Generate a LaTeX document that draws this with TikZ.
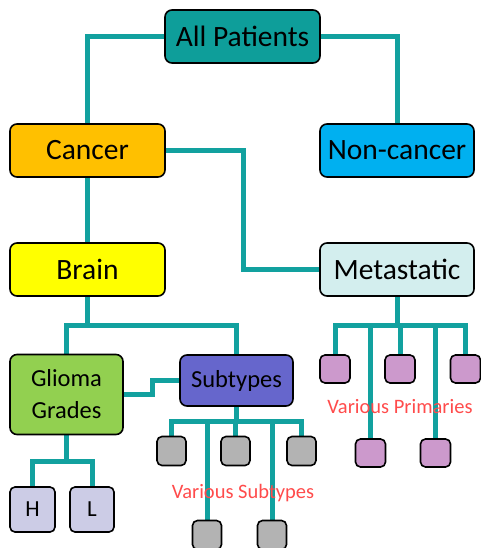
\documentclass[tikz,border=0pt]{standalone}
\usepackage{fontspec}
\setmainfont{Carlito}
\usetikzlibrary{backgrounds,calc}
\definecolor{teal1}{HTML}{0E9E9A}
\definecolor{lineteal}{HTML}{12A19F}
\definecolor{orangeb}{HTML}{FFC000}
\definecolor{blueb}{HTML}{00B0F0}
\definecolor{yellowb}{HTML}{FFFF00}
\definecolor{cyanb}{HTML}{D3EEEE}
\definecolor{greenb}{HTML}{92D050}
\definecolor{purpleb}{HTML}{6666CC}
\definecolor{greyb}{HTML}{B3B3B3}
\definecolor{pinkb}{HTML}{CC99CC}
\definecolor{lavb}{HTML}{CCCCE6}
\definecolor{redtxt}{HTML}{FF4B4B}
\tikzset{
  box/.style={draw=black, line width=1.6pt, rounded corners=7pt, inner sep=0pt, align=center},
  bigbox/.style={box, minimum width=155pt, minimum height=53pt, font=\fontsize{29.5}{32}\selectfont},
  midbox/.style={box, minimum width=113pt, font=\fontsize{24.5}{32}\selectfont},
  smallbox/.style={box, rounded corners=5pt, minimum width=29pt, minimum height=29pt},
  hlbox/.style={smallbox, fill=lavb, minimum height=45pt, font=\fontsize{23}{25}\selectfont},
  pinkbox/.style={smallbox, fill=pinkb, minimum width=30pt, minimum height=28pt},
  conn/.style={draw=lineteal, line width=5pt, line join=miter},
  note/.style={text=redtxt, font=\fontsize{20.5}{24}\selectfont}
}
\begin{document}
\begin{tikzpicture}[x=1pt,y=-1pt]
\useasboundingbox (0,0) rectangle (481,548);
% main boxes
\node[bigbox, fill=teal1] (ap) at (242.5,36.5) {All Patients};
\node[bigbox, fill=orangeb] (cancer) at (87.5,150.5) {Cancer};
\node[bigbox, fill=blueb, minimum width=154pt] (noncancer) at (397,150.5) {Non-cancer};
\node[bigbox, fill=yellowb] (brain) at (87.5,269.5) {Brain};
\node[bigbox, fill=cyanb, minimum width=154pt] (meta) at (397,269.5) {Metastatic};
\node[midbox, fill=greenb, minimum height=80pt] (glioma) at (66.5,394.5) {Glioma\\Grades};
\node[midbox, fill=purpleb, minimum height=51pt] (subtypes) at (236.5,380.5) {Subtypes};
% H / L
\node[hlbox, minimum width=45pt] (h) at (32.5,509.5) {H};
\node[hlbox, minimum width=44pt] (l) at (92,509.5) {L};
% grey subtype boxes
\node[smallbox, fill=greyb] (g1) at (171.5,451) {};
\node[smallbox, fill=greyb] (g2) at (235.5,451) {};
\node[smallbox, fill=greyb] (g3) at (301.5,451) {};
\node[smallbox, fill=greyb] (g4) at (207,535) {};
\node[smallbox, fill=greyb] (g5) at (272,535) {};
% pink primary boxes
\node[pinkbox] (p1) at (335,369) {};
\node[pinkbox] (p2) at (400,369) {};
\node[pinkbox] (p3) at (465.5,369) {};
\node[pinkbox] (p4) at (370.5,453) {};
\node[pinkbox] (p5) at (435.5,453) {};
% labels
\node[note] (vs) at (243,493) {Various Subtypes};
\node[note] (vp) at (400,407) {Various Primaries};
% junction coordinates
\coordinate (cm) at (243,150.5);
\coordinate (jb) at (87.5,325);
\coordinate (gs) at (152,394.5);
\coordinate (js) at (236.5,421);
\coordinate (jm) at (397,325);
\coordinate (jg) at (66.5,461);
\begin{scope}[on background layer]
\draw[conn] (ap.west) -| (cancer.north);
\draw[conn] (ap.east) -| (noncancer.north);
\draw[conn] (cancer.east) -- (cm) |- (meta.west);
\draw[conn] (cancer.south) -- (brain.north);
\draw[conn] (brain.south) -- (jb);
\draw[conn] (glioma.north) |- (jb) -| (subtypes.north);
\draw[conn] (glioma.east) -- (gs) |- (subtypes.west);
\draw[conn] (glioma.south) -- (jg);
\draw[conn] (h.north) |- (jg) -| (l.north);
\draw[conn] (subtypes.south) -- (js);
\draw[conn] (g1.north) |- (js) -| (g3.north);
\draw[conn] (g2.north) -- (g2.north |- js);
\draw[conn] (g4.north) -- (g4.north |- js);
\draw[conn] (g5.north) -- (g5.north |- js);
\draw[conn] (meta.south) -- (jm);
\draw[conn] (p1.north) |- (jm) -| (p3.north);
\draw[conn] (p2.north) -- (p2.north |- jm);
\draw[conn] (p4.north) -- (p4.north |- jm);
\draw[conn] (p5.north) -- (p5.north |- jm);
\end{scope}
\end{tikzpicture}
\end{document}
